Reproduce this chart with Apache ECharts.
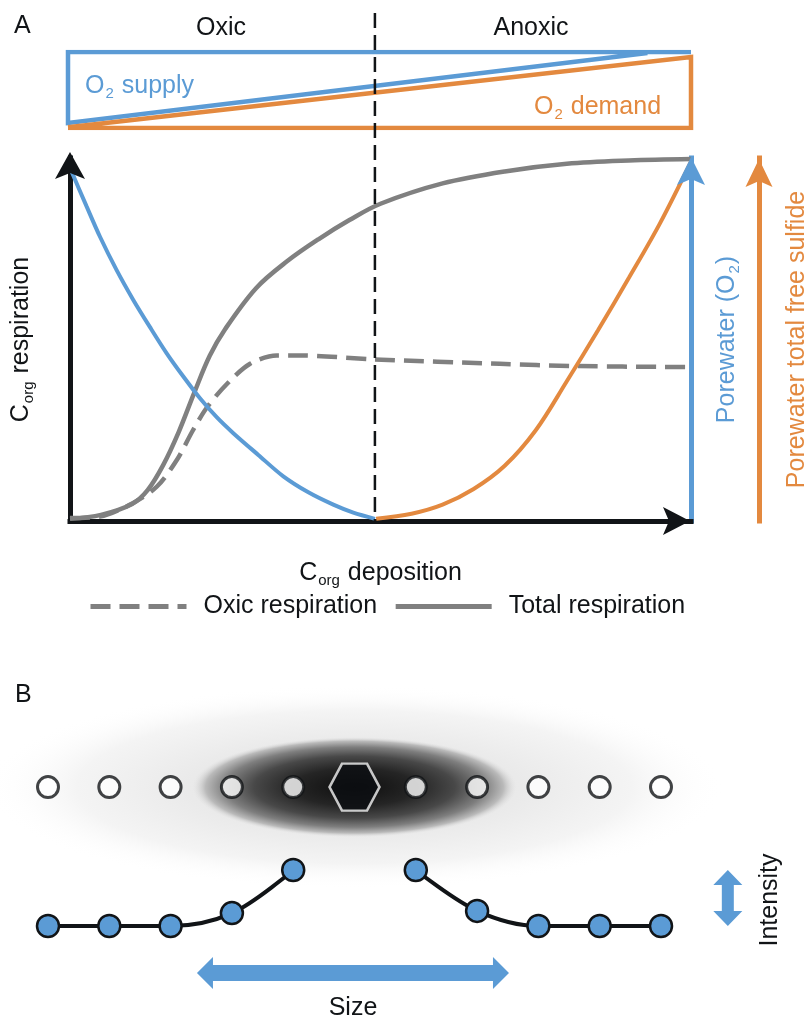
<!DOCTYPE html>
<html>
<head>
<meta charset="utf-8">
<script src="https://cdn.jsdelivr.net/npm/echarts@6/dist/echarts.min.js"></script>
<style>
  html, body { margin: 0; padding: 0; background: #ffffff; }
  #chart { width: 809px; height: 1017px; }
</style>
</head>
<body>
<div id="chart"></div>
<script>
// ---------- Panel A: normalised responses to organic carbon deposition (0–1) ----------
const porewaterO2 = [[0, 0.975], [0.0027, 0.962], [0.0269, 0.866], [0.0483, 0.783], [0.0751, 0.691],
  [0.1019, 0.609], [0.1288, 0.534], [0.1557, 0.462], [0.1825, 0.398], [0.2093, 0.338],
  [0.2362, 0.286], [0.2630, 0.242], [0.3032, 0.182], [0.3435, 0.123], [0.3838, 0.079],
  [0.4240, 0.045], [0.4562, 0.023], [0.4911, 0.006]];
const totalRespiration = [[0, 0.006], [0.05, 0.017], [0.10, 0.047], [0.125, 0.085], [0.15, 0.154],
  [0.175, 0.245], [0.20, 0.353], [0.225, 0.455], [0.25, 0.529], [0.30, 0.642], [0.35, 0.716],
  [0.40, 0.776], [0.45, 0.829], [0.50, 0.874], [0.60, 0.930], [0.70, 0.963], [0.80, 0.984],
  [0.90, 0.993], [1.0, 0.997]];
const oxicRespiration = [[0, 0.008], [0.048, 0.012], [0.101, 0.049], [0.140, 0.095], [0.172, 0.168],
  [0.198, 0.250], [0.221, 0.314], [0.253, 0.378], [0.290, 0.433], [0.333, 0.456],
  [0.370, 0.456], [0.491, 0.445], [0.692, 0.433], [0.810, 0.427], [0.994, 0.424]];
const porewaterSulfide = [[0.493, 0.006], [0.55, 0.020], [0.60, 0.045], [0.65, 0.088], [0.70, 0.152],
  [0.75, 0.250], [0.80, 0.385], [0.85, 0.525], [0.90, 0.670], [0.95, 0.820], [1.0, 0.99]];
const oxicAnoxicBoundary = 0.491;

// O2 supply / demand wedges (normalised deposition vs. relative magnitude)
const o2SupplyOutline = [[1, 1], [0, 1], [0, 0.066], [0.93, 0.987]];
const o2DemandOutline = [[0, 0.01], [1, 0.934], [1, 0], [0, 0]];

// ---------- Panel B: lattice sites around a central defect and their intensity ----------
const siteIndex = [0, 1, 2, 3, 4, 5, 6, 7, 8, 9, 10];
const centerSite = 5;
const siteIntensity = [0, 0, 0, 0.23, 1, null, 1, 0.27, 0, 0, 0];
const siteRowLevel = 2.48;
const sizeArrowSpan = [2.43, 7.52];
const sizeArrowLevel = -0.84;
const intensityArrowSite = 11.09;

const BLUE = '#5b9bd5';
const ORANGE = '#e3893f';
const GRAY = '#808080';
const INK = '#111417';
const FONT = '"Liberation Sans", Arial, Helvetica, sans-serif';
const FS = 25;

function subRich(color) {
  return {
    c: { fontSize: FS, lineHeight: 32, color: color, fill: color, fontFamily: FONT },
    s: { fontSize: 15, lineHeight: 15, padding: [16, 1, 0, 1], color: color, fill: color, fontFamily: FONT }
  };
}

const chart = echarts.init(document.getElementById('chart'), null, { renderer: 'canvas' });

const hiddenAxis = (grid, min, max) => ({ gridIndex: grid, type: 'value', min: min, max: max, show: false });

const axisLineOf = color => ({ show: true, lineStyle: { color: color, width: 5, cap: 'square' } });

const plainAxis = {
  axisTick: { show: false },
  axisLabel: { show: false },
  splitLine: { show: false }
};

const option = {
  animation: false,
  backgroundColor: '#ffffff',
  textStyle: { fontFamily: FONT },
  grid: [
    { left: 70, top: 158, width: 621, height: 363, outerBoundsMode: 'none', containLabel: false },
    { left: 68, top: 52, width: 623, height: 76, outerBoundsMode: 'none', containLabel: false },
    { left: 48, top: 758, width: 613, height: 168, outerBoundsMode: 'none', containLabel: false }
  ],
  legend: {
    data: ['Oxic respiration', 'Total respiration'],
    left: 88, top: 594, padding: 0,
    itemWidth: 96, itemHeight: 24, itemGap: 16,
    selectedMode: false,
    lineStyle: { width: 5 },
    itemStyle: { color: 'rgba(0,0,0,0)', borderColor: 'rgba(0,0,0,0)', borderWidth: 0, opacity: 0 },
    textStyle: { fontSize: FS, color: INK, fontFamily: FONT, padding: [0, 0, 0, 12] }
  },
  xAxis: [
    Object.assign({
      gridIndex: 0, type: 'value', min: 0, max: 1, z: 3,
      axisLine: axisLineOf(INK),
      name: '{c|C}{s|org}{c| deposition}', nameLocation: 'middle', nameGap: 36,
      nameTextStyle: { fontSize: FS, color: INK, fontFamily: FONT, rich: subRich(INK) }
    }, plainAxis),
    hiddenAxis(1, 0, 1),
    hiddenAxis(2, 0, 10)
  ],
  yAxis: [
    Object.assign({
      gridIndex: 0, type: 'value', min: 0, max: 1, z: 3,
      axisLine: axisLineOf(INK),
      name: '{c|C}{s|org}{c| respiration}', nameLocation: 'middle', nameGap: 33, nameRotate: 90,
      nameTextStyle: { fontSize: FS, color: INK, fontFamily: FONT, rich: subRich(INK) }
    }, plainAxis),
    Object.assign({
      gridIndex: 0, type: 'value', min: 0, max: 1, position: 'right', z: 3,
      axisLine: axisLineOf(BLUE),
      name: '{c|Porewater (O}{s|2}{c|)}', nameLocation: 'middle', nameGap: 20, nameRotate: 90,
      nameTextStyle: { fontSize: FS, color: BLUE, fontFamily: FONT, rich: subRich(BLUE) }
    }, plainAxis),
    Object.assign({
      gridIndex: 0, type: 'value', min: 0, max: 1, position: 'right', offset: 68, z: 3,
      axisLine: axisLineOf(ORANGE),
      name: 'Porewater total free sulfide', nameLocation: 'middle', nameGap: 26, nameRotate: 90,
      nameTextStyle: { fontSize: FS, color: ORANGE, fontFamily: FONT }
    }, plainAxis),
    hiddenAxis(1, 0, 1),
    hiddenAxis(2, 0, 3)
  ],
  series: [
    {
      name: 'Total respiration', type: 'line', xAxisIndex: 0, yAxisIndex: 0,
      data: totalRespiration, smooth: 0.35, symbol: 'none',
      lineStyle: { color: GRAY, width: 4.5 }, itemStyle: { color: GRAY }
    },
    {
      name: 'Oxic respiration', type: 'line', xAxisIndex: 0, yAxisIndex: 0,
      data: oxicRespiration, smooth: 0.3, symbol: 'none',
      lineStyle: { color: GRAY, width: 4.5, type: [20, 9] }, itemStyle: { color: GRAY }
    },
    {
      name: 'Porewater O2', type: 'line', xAxisIndex: 0, yAxisIndex: 0,
      data: porewaterO2, smooth: 0.3, symbol: 'none',
      lineStyle: { color: BLUE, width: 4 }
    },
    {
      name: 'Porewater sulfide', type: 'line', xAxisIndex: 0, yAxisIndex: 0,
      data: porewaterSulfide, smooth: 0.35, symbol: 'none',
      lineStyle: { color: ORANGE, width: 4 }
    },
    {
      name: 'O2 supply', type: 'line', xAxisIndex: 1, yAxisIndex: 3,
      data: o2SupplyOutline, symbol: 'none',
      lineStyle: { color: BLUE, width: 4.5, join: 'miter' }
    },
    {
      name: 'O2 demand', type: 'line', xAxisIndex: 1, yAxisIndex: 3,
      data: o2DemandOutline, symbol: 'none',
      lineStyle: { color: ORANGE, width: 4.5, join: 'miter' }
    },
    {
      name: 'Sites', type: 'scatter', xAxisIndex: 2, yAxisIndex: 4,
      data: siteIndex.filter(i => i !== centerSite).map(i => [i, siteRowLevel]),
      symbol: 'circle', symbolSize: 21,
      itemStyle: { color: '#ffffff', borderColor: INK, borderWidth: 3 },
      z: 4
    },
    {
      name: 'Defect', type: 'scatter', xAxisIndex: 2, yAxisIndex: 4,
      data: [[centerSite, siteRowLevel]],
      symbol: 'path://M0,50 L25,0 L75,0 L100,50 L75,100 L25,100 Z',
      symbolSize: [50, 47],
      itemStyle: { color: '#0b0e11', borderColor: '#f4f4f4', borderWidth: 2.5 },
      z: 4
    },
    {
      name: 'Intensity', type: 'line', xAxisIndex: 2, yAxisIndex: 4,
      data: siteIndex.map(i => [i, siteIntensity[i]]),
      connectNulls: false, smooth: 0.35,
      symbol: 'circle', symbolSize: 22, showAllSymbol: true,
      lineStyle: { color: INK, width: 4 },
      itemStyle: { color: BLUE, borderColor: INK, borderWidth: 2.5 },
      z: 4
    }
  ]
};

chart.setOption(option);

// ---------- annotations placed from the grids' own coordinate systems ----------
const origin = chart.convertToPixel({ gridIndex: 0 }, [0, 0]);
const corner = chart.convertToPixel({ gridIndex: 0 }, [1, 1]);
const sulfideAxisX = corner[0] + 68;
const boundaryPx = chart.convertToPixel({ gridIndex: 0 }, [oxicAnoxicBoundary, 0]);
const defectPx = chart.convertToPixel({ gridIndex: 2 }, [centerSite, siteRowLevel]);
const sizeA = chart.convertToPixel({ gridIndex: 2 }, [sizeArrowSpan[0], sizeArrowLevel]);
const sizeB = chart.convertToPixel({ gridIndex: 2 }, [sizeArrowSpan[1], sizeArrowLevel]);
const intLo = chart.convertToPixel({ gridIndex: 2 }, [intensityArrowSite, 0]);
const intHi = chart.convertToPixel({ gridIndex: 2 }, [intensityArrowSite, 1]);

// notched arrowhead pointing along (dx, dy) with its tip at (x, y)
function arrowHead(x, y, dx, dy, len, half, notch, color) {
  const px = -dy, py = dx;
  const bx = x - dx * len, by = y - dy * len;
  const nx = x - dx * (len - notch), ny = y - dy * (len - notch);
  return {
    type: 'polygon', z: 12, silent: true,
    shape: { points: [[x, y], [bx + px * half, by + py * half], [nx, ny], [bx - px * half, by - py * half]] },
    style: { fill: color }
  };
}

function doubleArrowH(x1, x2, y, t, h, L) {
  return [[x1, y], [x1 + L, y - h], [x1 + L, y - t], [x2 - L, y - t], [x2 - L, y - h],
          [x2, y], [x2 - L, y + h], [x2 - L, y + t], [x1 + L, y + t], [x1 + L, y + h]];
}
function doubleArrowV(x, y1, y2, t, h, L) {
  return doubleArrowH(y1, y2, x, t, h, L).map(p => [p[1], p[0]]);
}

function haze(cx, cy, rx, ry, stops, z) {
  return {
    type: 'circle', x: cx, y: cy, scaleX: rx / ry, scaleY: 1, z: z, silent: true,
    shape: { cx: 0, cy: 0, r: ry },
    style: { fill: new echarts.graphic.RadialGradient(0.5, 0.5, 0.5, stops) }
  };
}

function text(str, x, y, opts) {
  opts = opts || {};
  const color = opts.color || INK;
  return {
    type: 'text', x: x, y: y, rotation: opts.rotation || 0, z: 10, silent: true,
    style: {
      text: str, fill: color, font: FS + 'px ' + FONT,
      align: opts.align || 'center', verticalAlign: 'middle',
      rich: opts.rich ? subRich(color) : undefined
    }
  };
}

chart.setOption({
  graphic: [
    haze(defectPx[0], defectPx[1], 370, 102, [
      { offset: 0, color: '#e0e0e0' },
      { offset: 0.45, color: '#eaeaea' },
      { offset: 0.75, color: '#f4f4f4' },
      { offset: 1, color: 'rgba(255,255,255,0)' }
    ], 0),
    haze(defectPx[0], defectPx[1], 162, 50, [
      { offset: 0, color: '#0e0e0e' },
      { offset: 0.38, color: '#252525' },
      { offset: 0.62, color: '#484848' },
      { offset: 0.8, color: '#7e7e7e' },
      { offset: 0.92, color: '#bababa' },
      { offset: 1, color: 'rgba(224,224,224,0)' }
    ], 1),
    {
      type: 'line', z: 10, silent: true,
      shape: { x1: boundaryPx[0], y1: 13, x2: boundaryPx[0], y2: boundaryPx[1] },
      style: { stroke: INK, lineWidth: 2.5, lineDash: [15, 7] }
    },
    arrowHead(origin[0], corner[1] - 6, 0, -1, 27, 15, 6, INK),
    arrowHead(corner[0] - 1, origin[1], 1, 0, 27, 14, 6, INK),
    arrowHead(corner[0], corner[1] - 1, 0, -1, 28, 14, 6, BLUE),
    arrowHead(sulfideAxisX, corner[1] + 1, 0, -1, 28, 13.5, 6, ORANGE),
    {
      type: 'polygon', z: 10, silent: true,
      shape: { points: doubleArrowH(sizeA[0], sizeB[0], sizeA[1], 8, 16, 16) },
      style: { fill: BLUE }
    },
    {
      type: 'polygon', z: 10, silent: true,
      shape: { points: doubleArrowV(intHi[0], intHi[1], intLo[1], 6, 14.5, 15) },
      style: { fill: BLUE }
    },
    text('A', 14, 26, { align: 'left' }),
    text('B', 15, 695, { align: 'left' }),
    text('Oxic', 221, 28),
    text('Anoxic', 531, 28),
    text('{c|O}{s|2}{c| supply}', 85, 86, { align: 'left', color: BLUE, rich: true }),
    text('{c|O}{s|2}{c| demand}', 534, 107, { align: 'left', color: ORANGE, rich: true }),
    text('Size', (sizeA[0] + sizeB[0]) / 2, 1008),
    text('Intensity', 770, 900, { rotation: Math.PI / 2 })
  ]
});
</script>
</body>
</html>
